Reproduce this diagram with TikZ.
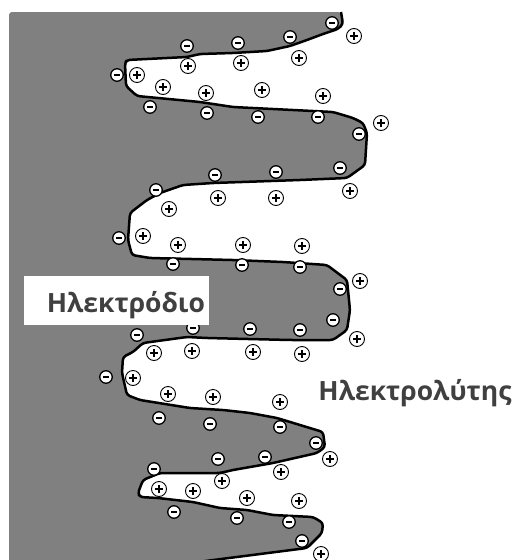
\documentclass[tikz,border=0pt]{standalone}
\usepackage{fontspec}
\setmainfont{Open Sans}

\definecolor{electrode}{HTML}{808080}
\definecolor{textgray}{HTML}{404040}

\tikzset{
  negcharge/.style={circle,draw,line width=1.3pt,fill=white,minimum size=12.5pt,inner sep=0pt,
    path picture={\draw[line width=2.4pt] ([xshift=-3pt]path picture bounding box.center)--([xshift=3pt]path picture bounding box.center);}},
  poscharge/.style={circle,draw,line width=0.9pt,fill=white,minimum size=15pt,inner sep=0pt,
    path picture={\draw[line width=1.1pt] ([xshift=-4pt]path picture bounding box.center)--([xshift=4pt]path picture bounding box.center)
      ([yshift=-4pt]path picture bounding box.center)--([yshift=4pt]path picture bounding box.center);}},
  rim/.style={line width=2.5pt,line join=round,rounded corners=3pt},
  lbltext/.style={text=textgray,font=\fontsize{26.5}{32}\selectfont\bfseries,inner sep=0pt}
}

% electrode/electrolyte interface, from the top edge down to the bottom
\def\rimpath{(341,12) -- (343,24) -- (338,29) -- (323,34) -- (307,40) -- (290,46) -- (267,51)
  -- (233,53) -- (200,54) -- (187,57) -- (127,60) -- (125,63) -- (126,86) -- (137,96)
  -- (200,102) -- (233,107) -- (333,112) -- (353,118) -- (363,123) -- (367,133)
  -- (365,165) -- (347,178) -- (300,180) -- (213,183) -- (183,185) -- (160,193) -- (147,200)
  -- (130,213) -- (128,240) -- (132,255) -- (150,258) -- (233,260) -- (283,262) -- (327,265)
  -- (347,280) -- (350,310) -- (347,330) -- (333,340) -- (290,340) -- (207,338) -- (187,337)
  -- (143,343) -- (133,352) -- (123,357) -- (122,373) -- (127,395) -- (140,400) -- (190,408)
  -- (223,410) -- (250,413) -- (277,418) -- (323,432) -- (325,447) -- (317,453) -- (273,463)
  -- (233,470) -- (220,473) -- (160,473) -- (143,480) -- (138,493) -- (140,497) -- (158,498)
  -- (193,502) -- (220,508) -- (247,510) -- (273,515) -- (313,517) -- (323,523) -- (322,533)
  -- (307,548) -- (190,563)}

\begin{document}
\begin{tikzpicture}[x=1pt,y=-1pt]
  \useasboundingbox (0,0) rectangle (512,560);

  % electrode body
  \fill[electrode,rim] \rimpath -- (9,563) -- (9,12) -- cycle;
  \draw[rim] \rimpath;

  % negative charges on the electrode side
  \foreach \x/\y [count=\i] in {332/23,290/37,238/43,187/46,117/75,150/107,207/113,258/117,
      318/117,359/134,340/168,276/172,215/175,156/190,119/238,173/264,242/265,300/267,
      340/289,333/320,300/330,250/329,193/328,137/335,106/377,159/418,210/424,280/427,
      316/443,265/457,218/459,154/469,174/512,237/518,289/522,302/541}
    \node[negcharge](n\i) at (\x,\y) {};

  % positive ions in the electrolyte
  \foreach \x/\y [count=\i] in {354/36,299/58,241/63,188/66,137/75,163/87,206/93,262/90,
      323/96,381/123,350/191,276/198,218/198,169/209,143/236,178/245,243/245,302/246,
      360/281,357/339,302/354,253/352,192/351,154/353,133/378,168/394,213/397,280/402,
      330/459,281/472,222/481,159/489,193/491,247/498,299/501,321/554}
    \node[poscharge](p\i) at (\x,\y) {};

  \node[fill=white,minimum width=185pt,minimum height=49pt,inner sep=0pt](box) at (116.5,300.5) {};
  \node[lbltext,anchor=base](electrode) at (126,312) {Ηλεκτρόδιο};
  \node[lbltext,anchor=base](electrolyte) at (415,400) {Ηλεκτρολύτης};
\end{tikzpicture}
\end{document}
